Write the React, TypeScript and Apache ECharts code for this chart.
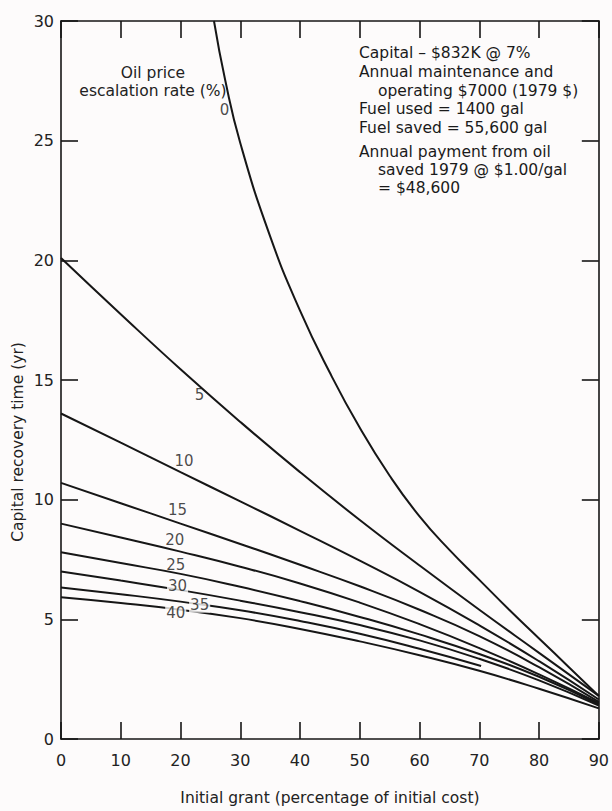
import React, { useEffect, useRef } from "react";
import * as echarts from "echarts";

const xTicks = [0, 10, 20, 30, 40, 50, 60, 70, 80, 90];
const decadeX = [0, 10, 20, 30, 40, 50, 60, 70, 80, 90];

const curve0: number[][] = [
  [25.6, 30], [27.5, 27.5], [30, 24.9], [35, 21.0], [40, 17.9], [45, 15.3], [50, 13.0],
  [55, 11.0], [60, 9.3], [65, 7.9], [70, 6.65], [75, 5.4], [80, 4.2], [85, 3.0], [90, 1.8],
];
const curve5 = [20.1, 17.75, 15.45, 13.25, 11.15, 9.15, 7.25, 5.4, 3.6, 1.8];
const curve10 = [13.6, 12.38, 11.15, 9.93, 8.7, 7.45, 6.15, 4.75, 3.25, 1.65];
const curve15 = [10.7, 9.85, 9.0, 8.15, 7.28, 6.38, 5.4, 4.3, 3.0, 1.55];
const curve20 = [9.0, 8.42, 7.83, 7.2, 6.5, 5.7, 4.8, 3.8, 2.7, 1.5];
const curve25 = [7.8, 7.35, 6.9, 6.36, 5.76, 5.1, 4.37, 3.55, 2.6, 1.45];
const curve30 = [7.0, 6.62, 6.22, 5.78, 5.3, 4.76, 4.12, 3.35, 2.45, 1.4];
const curve35: number[][] = [
  [0, 6.33], [10, 6.05], [20, 5.74], [30, 5.38], [40, 4.93], [50, 4.4], [60, 3.77], [70.3, 3.05],
];
const curve40 = [5.92, 5.68, 5.4, 5.05, 4.6, 4.08, 3.5, 2.85, 2.1, 1.28];

// curve labels: [x, y, text, whiteBackground]
const curveLabels: [number, number, string, number][] = [
  [27.35, 26.28, "0", 0],
  [23.2, 14.37, "5", 0],
  [20.6, 11.63, "10", 0],
  [19.5, 9.58, "15", 0],
  [19.05, 8.3, "20", 0],
  [19.2, 7.28, "25", 0],
  [19.5, 6.41, "30", 1],
  [23.2, 5.59, "35", 1],
  [19.2, 5.26, "40", 1],
];

const noteLines: [string, number][] = [
  ["Capital \u2013 $832K @ 7%", 0],
  ["Annual maintenance and", 0],
  ["operating $7000 (1979 $)", 1],
  ["Fuel used = 1400 gal", 0],
  ["Fuel saved = 55,600 gal", 0],
  ["Annual payment from oil", 0],
  ["saved 1979 @ $1.00/gal", 1],
  ["= $48,600", 1],
];
const noteY = [53, 72, 91, 109, 128, 152, 170, 188];

const FONT = "DejaVu Sans, Liberation Sans, sans-serif";
const INK = "#161616";
const BG = "#fdfbfb";

const zip = (ys: number[]) => ys.map((y, i) => [decadeX[i], y]);

export default function App() {
  const ref = useRef<HTMLDivElement>(null);
  useEffect(() => {
    if (!ref.current) return;
    const chart = echarts.init(ref.current, undefined, { renderer: "svg" });
    const lineSeries = (name: string, data: number[][], smooth: number | boolean = 0.5) => ({
      type: "line",
      name,
      data,
      smooth,
      showSymbol: false,
      symbol: "none",
      clip: true,
      lineStyle: { color: INK, width: 2 },
      z: 2,
    });
    const tickCommon = {
      show: true,
      inside: true,
      length: 17,
      lineStyle: { color: INK, width: 1.6 },
    };
    const lineCommon = { show: true, onZero: false, lineStyle: { color: INK, width: 1.6 } };
    chart.setOption({
      animation: false,
      backgroundColor: BG,
      textStyle: { fontFamily: FONT },
      grid: { left: 61, right: 9, top: 21, bottom: 60, containLabel: false },
      xAxis: [
        {
          type: "value",
          min: 0,
          max: 90,
          interval: 10,
          position: "bottom",
          axisLine: lineCommon,
          axisTick: tickCommon,
          splitLine: { show: false },
          axisLabel: { color: "#222", fontSize: 16, margin: 13, fontFamily: FONT },
          name: "Initial grant (percentage of initial cost)",
          nameLocation: "middle",
          nameGap: 51,
          nameTextStyle: { color: "#222", fontSize: 15.5, fontFamily: FONT },
        },
        {
          type: "value",
          min: 0,
          max: 90,
          interval: 10,
          position: "top",
          axisLine: lineCommon,
          axisTick: tickCommon,
          splitLine: { show: false },
          axisLabel: { show: false },
        },
      ],
      yAxis: [
        {
          type: "value",
          min: 0,
          max: 30,
          interval: 5,
          position: "left",
          axisLine: lineCommon,
          axisTick: tickCommon,
          splitLine: { show: false },
          axisLabel: { color: "#222", fontSize: 16, margin: 7, fontFamily: FONT },
        },
        {
          type: "value",
          min: 0,
          max: 30,
          interval: 5,
          position: "right",
          axisLine: lineCommon,
          axisTick: tickCommon,
          splitLine: { show: false },
          axisLabel: { show: false },
        },
      ],
      series: [
        lineSeries("0", curve0, 0.5),
        lineSeries("5", zip(curve5)),
        lineSeries("10", zip(curve10)),
        lineSeries("15", zip(curve15)),
        lineSeries("20", zip(curve20)),
        lineSeries("25", zip(curve25)),
        lineSeries("30", zip(curve30)),
        lineSeries("35", curve35),
        lineSeries("40", zip(curve40)),
        {
          type: "scatter",
          name: "labels",
          symbolSize: 1,
          itemStyle: { color: "rgba(0,0,0,0)" },
          z: 10,
          data: curveLabels.map((l) => ({
            value: [l[0], l[1]],
            label: {
              show: true,
              position: "inside",
              formatter: l[2],
              color: "#1a1a1a",
              fontSize: 15,
              fontFamily: FONT,
              backgroundColor: l[3] ? BG : "transparent",
              padding: l[3] ? [0, 1] : 0,
            },
          })),
        },
      ],
      graphic: [
        {
          type: "text",
          x: 18,
          y: 442,
          rotation: Math.PI / 2,
          style: {
            text: "Capital recovery time (yr)",
            fill: "#222",
            font: `15.5px ${FONT}`,
            textAlign: "center",
            textVerticalAlign: "middle",
          },
        },
        {
          type: "text",
          x: 153,
          y: 73,
          style: {
            text: "Oil price",
            fill: "#222",
            font: `15.5px ${FONT}`,
            textAlign: "center",
            textVerticalAlign: "middle",
          },
        },
        {
          type: "text",
          x: 153,
          y: 91,
          style: {
            text: "escalation rate (%)",
            fill: "#222",
            font: `15.5px ${FONT}`,
            textAlign: "center",
            textVerticalAlign: "middle",
          },
        },
        ...noteLines.map((l, i) => ({
          type: "text",
          x: l[1] ? 378 : 359,
          y: noteY[i],
          style: {
            text: l[0],
            fill: "#1a1a1a",
            font: `15.5px ${FONT}`,
            textAlign: "left",
            textVerticalAlign: "middle",
          },
        })),
      ],
    });
    return () => chart.dispose();
  }, []);
  return (
    <div
      ref={ref}
      style={{ position: "fixed", left: 0, top: 0, width: 612, height: 811 }}
    />
  );
}
